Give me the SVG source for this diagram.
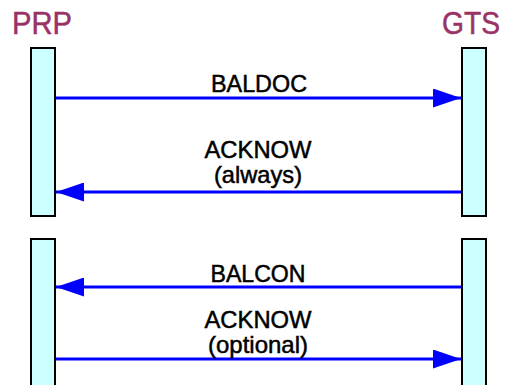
<svg xmlns="http://www.w3.org/2000/svg" width="505" height="385" viewBox="0 0 505 385">
<defs>
<style>
.bar{fill:#ccffff;stroke:#000;stroke-width:2}
.hdr{font-family:"Liberation Sans",Arial,sans-serif;font-size:31px;fill:#993366;stroke:#993366;stroke-width:0.5;text-anchor:middle}
.lbl{font-family:"Liberation Sans",Arial,sans-serif;font-size:24px;fill:#000;stroke:#000;stroke-width:0.5;text-anchor:middle}
.msg{stroke:#0000ff;stroke-width:3;fill:none}
</style>
<marker id="ah" viewBox="0 0 28 19" refX="28" refY="9.5" markerWidth="28" markerHeight="19" markerUnits="userSpaceOnUse" orient="auto">
<path d="M0,0 L28,9.5 L0,19 Z" fill="#0000ff"/>
</marker>
</defs>
<rect width="505" height="385" fill="#fff"/>
<g id="PRP">
<text class="hdr" x="42" y="34" textLength="60" lengthAdjust="spacingAndGlyphs">PRP</text>
<rect class="bar" x="31" y="48" width="24" height="168"/>
<rect class="bar" x="31" y="239" width="24" height="150"/>
</g>
<g id="GTS">
<text class="hdr" x="471" y="34" textLength="58" lengthAdjust="spacingAndGlyphs">GTS</text>
<rect class="bar" x="462" y="48" width="24" height="168"/>
<rect class="bar" x="462" y="239" width="24" height="150"/>
</g>
<g id="connectors">
<line class="msg" x1="56" y1="98" x2="461" y2="98" marker-end="url(#ah)"/>
<line class="msg" x1="461" y1="192" x2="56" y2="192" marker-end="url(#ah)"/>
<line class="msg" x1="461" y1="287" x2="56" y2="287" marker-end="url(#ah)"/>
<line class="msg" x1="56" y1="359" x2="461" y2="359" marker-end="url(#ah)"/>
<text class="lbl" x="259" y="92" textLength="96" lengthAdjust="spacingAndGlyphs">BALDOC</text>
<text class="lbl" x="258" y="158" textLength="107" lengthAdjust="spacingAndGlyphs">ACKNOW</text>
<text class="lbl" x="258" y="183" textLength="88" lengthAdjust="spacingAndGlyphs">(always)</text>
<text class="lbl" x="258" y="282" textLength="95" lengthAdjust="spacingAndGlyphs">BALCON</text>
<text class="lbl" x="258" y="328" textLength="107" lengthAdjust="spacingAndGlyphs">ACKNOW</text>
<text class="lbl" x="258" y="353" textLength="100" lengthAdjust="spacingAndGlyphs">(optional)</text>
</g>
</svg>
